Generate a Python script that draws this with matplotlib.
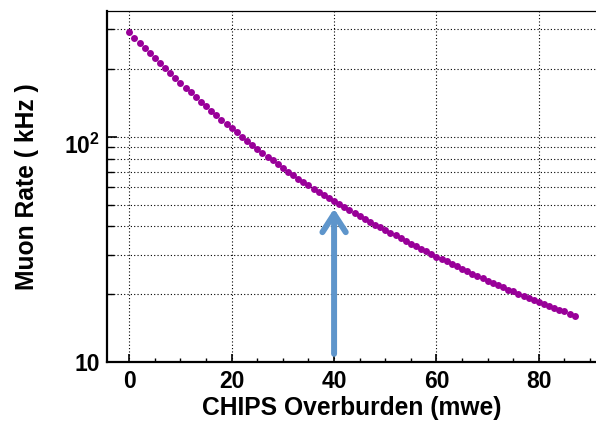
import matplotlib
matplotlib.use("Agg")
import matplotlib.pyplot as plt
from matplotlib.patches import FancyArrowPatch, ArrowStyle
from matplotlib.ticker import FixedLocator, NullFormatter
import matplotlib.transforms as mtransforms

plt.rcParams['font.family'] = ['Liberation Sans', 'DejaVu Sans']
plt.rcParams['font.weight'] = 'bold'
plt.rcParams['mathtext.fontset'] = 'custom'
plt.rcParams['mathtext.rm'] = 'Liberation Sans:bold'
plt.rcParams['mathtext.bf'] = 'Liberation Sans:bold'

# ---- data ----
overburden_mwe = list(range(0, 88))
muon_rate_khz = [
    289.7, 274.5, 260.3, 246.9, 234.3, 222.5, 211.4, 201.0, 191.1, 181.9,
    173.2, 165.0, 157.2, 149.9, 143.0, 136.5, 130.4, 124.6, 119.1, 114.0,
    109.1, 104.5, 100.1, 96.0, 92.1, 88.4, 84.9, 81.6, 78.5, 75.5,
    72.8, 70.1, 67.6, 65.2, 63.0, 60.8, 58.8, 56.9, 55.0, 53.3,
    51.7, 50.1, 48.6, 47.2, 45.8, 44.5, 43.2, 42.0, 40.8, 39.7,
    38.5, 37.5, 36.5, 35.5, 34.5, 33.6, 32.7, 31.8, 31.0, 30.2,
    29.4, 28.7, 28.0, 27.3, 26.6, 25.95, 25.3, 24.7, 24.1, 23.6,
    23.0, 22.5, 22.0, 21.5, 21.0, 20.6, 20.1, 19.7, 19.3, 18.9,
    18.5, 18.1, 17.8, 17.4, 17.1, 16.8, 16.4, 16.1,
]
x_major_ticks = [0, 20, 40, 60, 80]
x_minor_ticks = [v for v in range(0, 95, 5) if v not in (0, 20, 40, 60, 80)]
y_major_ticks = [10, 100]
y_major_labels = ['10', r'$10^{2}$']
y_minor_ticks = [20, 30, 40, 50, 60, 70, 80, 90, 200, 300]
x_label = 'CHIPS Overburden (mwe)'
y_label = 'Muon Rate ( kHz )'
arrow_x = 40
arrow_y_start = 10.9
arrow_y_end = 48.0

# ---- figure ----
fig = plt.figure(figsize=(5.96, 4.24), dpi=100)
ax = fig.add_axes([107/596, 1 - 362.3/424, 490/596, (362.3 - 10.7)/424])
ax.set_yscale('log')
ax.set_xlim(-4.35, 91.35)
ax.set_ylim(10, 361.8)

ax.plot(overburden_mwe, muon_rate_khz, linestyle='none', marker='o',
        markersize=5.0, color='#990099', markeredgewidth=0, zorder=3)

# ticks
ax.xaxis.set_major_locator(FixedLocator(x_major_ticks))
ax.xaxis.set_minor_locator(FixedLocator(x_minor_ticks))
ax.yaxis.set_major_locator(FixedLocator(y_major_ticks))
ax.yaxis.set_minor_locator(FixedLocator(y_minor_ticks))
ax.yaxis.set_minor_formatter(NullFormatter())
ax.set_yticklabels(y_major_labels)
ax.tick_params(axis='both', which='both', direction='in', color='black',
               top=False, right=False)
ax.tick_params(axis='x', which='major', length=6, width=1.2, labelsize=16.5, pad=5.5)
ax.tick_params(axis='x', which='minor', length=3, width=1.0)
ax.tick_params(axis='y', which='major', length=7, width=1.2, labelsize=16.5, pad=5)
ax.tick_params(axis='y', which='minor', length=5, width=1.0)
for lab in ax.get_xticklabels() + ax.get_yticklabels():
    lab.set_fontweight('bold')

# shift the 10^2 label down like the reference
ylabels = ax.get_yticklabels()
offset = mtransforms.ScaledTranslation(0, -7/100, fig.dpi_scale_trans)
ylabels[1].set_transform(ylabels[1].get_transform() + offset)

# grid
grid_kw = dict(color='black', linestyle=(0, (1, 2)), linewidth=0.8)
ax.grid(True, axis='x', which='major', **grid_kw)
ax.grid(True, axis='y', which='both', **grid_kw)
ax.set_axisbelow(True)

# spines
ax.spines['left'].set_linewidth(1.6)
ax.spines['bottom'].set_linewidth(1.6)
ax.spines['top'].set_linewidth(0.9)
ax.spines['right'].set_linewidth(0.9)

ax.set_xlabel(x_label, fontsize=17.7, fontweight='bold', labelpad=2)
ax.set_ylabel(y_label, fontsize=17.7, fontweight='bold', labelpad=18)

# arrow
arr = FancyArrowPatch(posA=(arrow_x, arrow_y_start), posB=(arrow_x, arrow_y_end),
                      arrowstyle=ArrowStyle('->', head_length=0.65, head_width=0.42),
                      mutation_scale=20, linewidth=4.3, color='#5E95CB',
                      capstyle='round', joinstyle='round', zorder=4,
                      shrinkA=0, shrinkB=0)
ax.add_patch(arr)

fig.savefig('out.png', dpi=100)
